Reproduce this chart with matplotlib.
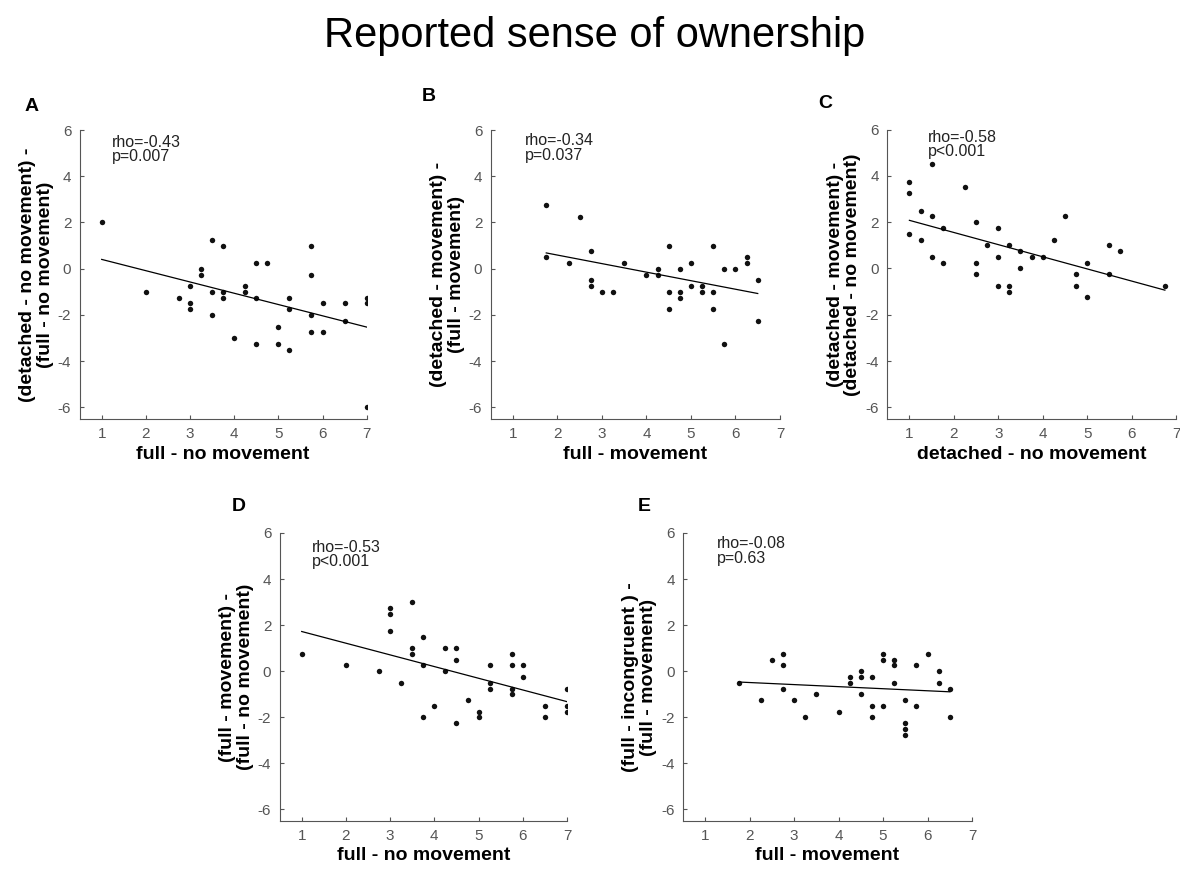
import numpy as np
import matplotlib
matplotlib.use('Agg')
import matplotlib.pyplot as plt

plt.rcParams['font.family'] = ['Liberation Sans', 'DejaVu Sans']
plt.rcParams['axes.unicode_minus'] = False

# panel A: full - no movement vs (detached - no movement) - (full - no movement)
a_x = [1, 2, 2.75, 3, 3, 3, 3.25, 3.25, 3.5, 3.5, 3.5, 3.75, 3.75, 3.75, 4, 4.25, 4.25,
       4.5, 4.5, 4.5, 4.75, 5, 5, 5.25, 5.25, 5.25, 5.75, 5.75, 5.75, 5.75, 6, 6,
       6.5, 6.5, 7, 7, 7]
a_y = [2, -1, -1.25, -0.75, -1.5, -1.75, 0, -0.25, 1.25, -1, -2, 1, -1, -1.25, -3, -0.75, -1,
       0.25, -1.25, -3.25, 0.25, -2.5, -3.25, -1.25, -1.75, -3.5, 1, -0.25, -2, -2.75, -1.5, -2.75,
       -1.5, -2.25, -1.25, -1.5, -6]

# panel B: full - movement vs (detached - movement) - (full - movement)
b_x = [1.75, 1.75, 2.25, 2.5, 2.75, 2.75, 2.75, 3, 3.25, 3.5, 4, 4.25, 4.25, 4.5, 4.5, 4.5,
       4.75, 4.75, 4.75, 5, 5, 5.25, 5.25, 5.5, 5.5, 5.5, 5.75, 5.75, 6, 6.25, 6.25, 6.5, 6.5]
b_y = [2.75, 0.5, 0.25, 2.25, 0.75, -0.5, -0.75, -1, -1, 0.25, -0.25, 0, -0.25, 1, -1, -1.75,
       0, -1, -1.25, 0.25, -0.75, -0.75, -1, 1, -1, -1.75, 0, -3.25, 0, 0.5, 0.25, -0.5, -2.25]

# panel C: detached - no movement vs (detached - movement) - (detached - no movement)
c_x = [1, 1, 1, 1.25, 1.25, 1.5, 1.5, 1.5, 1.75, 1.75, 2.25, 2.5, 2.5, 2.5, 2.75, 3, 3, 3,
       3.25, 3.25, 3.25, 3.5, 3.5, 3.75, 4, 4.25, 4.5, 4.75, 4.75, 5, 5, 5.5, 5.5, 5.75, 6.75]
c_y = [3.75, 3.25, 1.5, 2.5, 1.25, 4.5, 2.25, 0.5, 1.75, 0.25, 3.5, 2, 0.25, -0.25, 1, 1.75, 0.5, -0.75,
       1, -0.75, -1, 0.75, 0, 0.5, 0.5, 1.25, 2.25, -0.25, -0.75, 0.25, -1.25, 1, -0.25, 0.75, -0.75]

# panel D: full - no movement vs (full - movement) - (full - no movement)
d_x = [1, 2, 2.75, 3, 3, 3, 3.25, 3.5, 3.5, 3.5, 3.75, 3.75, 3.75, 4, 4.25, 4.25, 4.5, 4.5, 4.5,
       4.75, 5, 5, 5.25, 5.25, 5.25, 5.75, 5.75, 5.75, 5.75, 6, 6, 6.5, 6.5, 7, 7, 7]
d_y = [0.75, 0.25, 0, 2.75, 2.5, 1.75, -0.5, 3, 1, 0.75, 1.5, 0.25, -2, -1.5, 1, 0, 1, 0.5, -2.25,
       -1.25, -1.75, -2, 0.25, -0.5, -0.75, 0.75, 0.25, -0.75, -1, 0.25, -0.25, -1.5, -2, -0.75, -1.5, -1.75]

# panel E: full - movement vs (full - incongruent) - (full - movement)
e_x = [1.75, 2.25, 2.5, 2.75, 2.75, 2.75, 3, 3.25, 3.5, 4, 4.25, 4.25, 4.5, 4.5, 4.5, 4.75, 4.75, 4.75,
       5, 5, 5, 5.25, 5.25, 5.25, 5.5, 5.5, 5.5, 5.5, 5.75, 5.75, 6, 6.25, 6.25, 6.5, 6.5]
e_y = [-0.5, -1.25, 0.5, 0.75, 0.25, -0.75, -1.25, -2, -1, -1.75, -0.25, -0.5, 0, -0.25, -1, -0.25, -1.5, -2,
       0.75, 0.5, -1.5, 0.5, 0.25, -0.5, -1.25, -2.25, -2.5, -2.75, 0.25, -1.5, 0.75, 0, -0.5, -0.75, -2]

panels = [
    ('A', a_x, a_y, 'full - no movement', '(detached - no movement) -\n(full - no movement)',
     'rho=-0.43\np=0.007', (1.23, 5.8)),
    ('B', b_x, b_y, 'full - movement', '(detached - movement) -\n(full - movement)',
     'rho=-0.34\np=0.037', (1.28, 5.85)),
    ('C', c_x, c_y, 'detached - no movement', '(detached - movement) -\n(detached - no movement)',
     'rho=-0.58\np<0.001', (1.41, 6.0)),
    ('D', d_x, d_y, 'full - no movement', '(full - movement) -\n(full - no movement)',
     'rho=-0.53\np<0.001', (1.23, 5.7)),
    ('E', e_x, e_y, 'full - movement', '(full - incongruent ) -\n(full - movement)',
     'rho=-0.08\np=0.63', (1.26, 5.85)),
]

# axes boxes in pixels: left, top, right, bottom
W, H = 1180, 869
boxes = [(79.6, 130, 366.7, 419), (490.6, 130, 780, 419), (887.2, 129.5, 1176, 419),
         (279.6, 533, 567, 821), (683, 533, 972, 821)]
letter_pos = [(25, 111), (422, 101), (818, 108), (232, 511), (638, 511)]

gray = '#555555'
fig = plt.figure(figsize=(W / 100, H / 100), dpi=100)

for (name, x, y, xl, yl, txt, tpos), (l, t, r, b), (lx, ly) in zip(panels, boxes, letter_pos):
    ax = fig.add_axes([l / W, 1 - b / H, (r - l) / W, (b - t) / H])
    ax.plot(x, y, 'o', ms=3.9, color='#111111', mec='none')
    fit = np.polyfit(x, y, 1)
    xs = np.array([min(x), max(x)])
    ax.plot(xs, np.polyval(fit, xs), color='black', lw=0.9)
    ax.set_xlim(0.5, 7)
    ax.set_ylim(-6.5, 6)
    ax.set_xticks(range(1, 8))
    ax.set_yticks(range(-6, 7, 2))
    for s in ['top', 'right']:
        ax.spines[s].set_visible(False)
    for s in ['left', 'bottom']:
        ax.spines[s].set_color(gray)
        ax.spines[s].set_linewidth(0.8)
    ax.tick_params(direction='in', length=3, width=0.8, color=gray, labelcolor=gray,
                   labelsize=11, pad=6)
    ax.set_xlabel(xl, fontsize=14, fontweight='bold', labelpad=3)
    ax.set_ylabel(yl, fontsize=14, fontweight='bold', labelpad=3, linespacing=1.05)
    ax.text(tpos[0], tpos[1], txt, fontsize=11.5, va='top', ha='left', color='#222222',
            linespacing=0.95)
    fig.text(lx / W, 1 - ly / H, name, fontsize=14, fontweight='bold', va='baseline')

fig.text(0.504, 1 - 47 / H, 'Reported sense of ownership', fontsize=30, ha='center', va='baseline')

fig.savefig('out.png', dpi=100)
